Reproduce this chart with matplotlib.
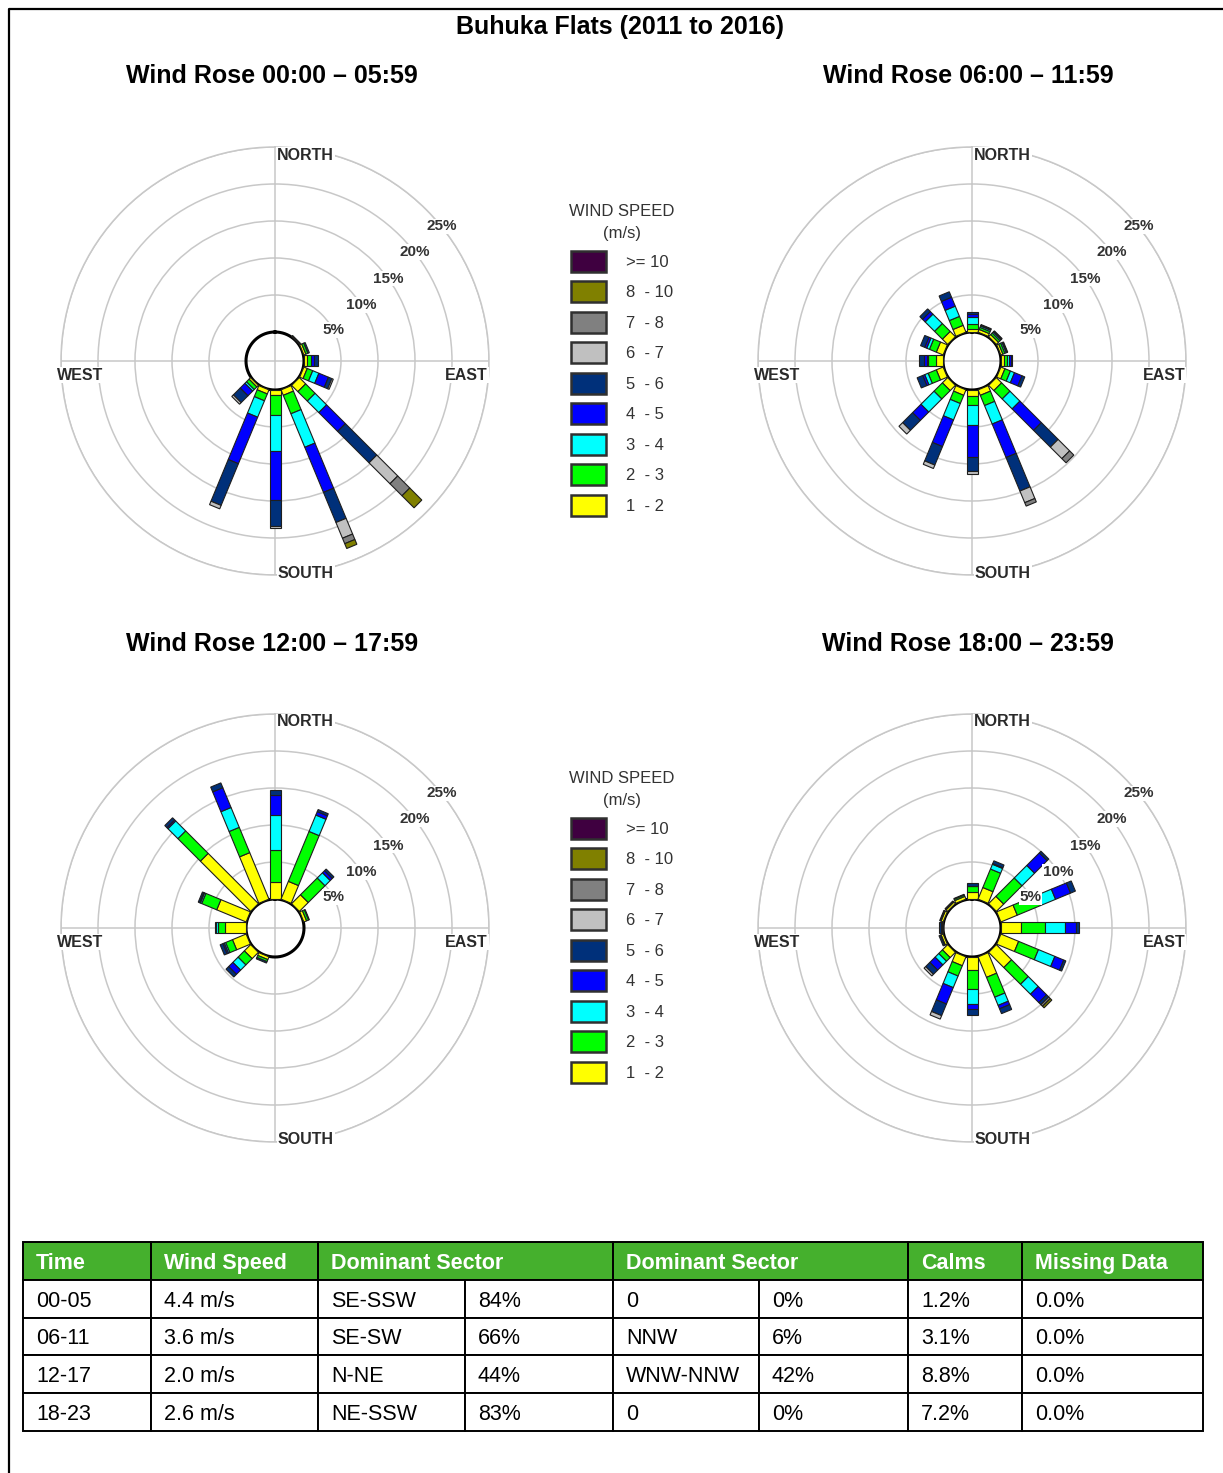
import numpy as np
import matplotlib
matplotlib.use("Agg")
import matplotlib.pyplot as plt
from matplotlib.patches import Patch, Rectangle, Polygon
import matplotlib.lines as mlines

plt.rcParams['font.family'] = ['Liberation Sans', 'DejaVu Sans']

# ---------------- data ----------------
directions = ['N', 'NNE', 'NE', 'ENE', 'E', 'ESE', 'SE', 'SSE',
              'S', 'SSW', 'SW', 'WSW', 'W', 'WNW', 'NW', 'NNW']
speed_bins = ['1  - 2', '2  - 3', '3  - 4', '4  - 5', '5  - 6',
              '6  - 7', '7  - 8', '8  - 10', '>= 10']
bin_colors = ['#FFFF00', '#00FF00', '#00FFFF', '#0000FF', '#00307A',
              '#C0C0C0', '#808080', '#808000', '#3F0040']

# frequency (%) per direction (rows) and speed bin (columns)
rose_00_05 = [
    [0, 0, 0, 0, 0, 0, 0, 0, 0],
    [0, 0, 0, 0, 0, 0, 0, 0, 0],
    [0.1, 0.1, 0, 0, 0, 0, 0, 0, 0],
    [0.3, 0.3, 0, 0, 0.2, 0, 0, 0, 0],
    [0.4, 0.6, 0, 0.3, 0.6, 0, 0, 0, 0],
    [0.5, 0.8, 0.9, 1.4, 0.5, 0.2, 0, 0, 0],
    [1.2, 1.8, 2.2, 3.6, 6.0, 4.0, 2.3, 2.3, 0],
    [0.8, 2.7, 4.9, 6.6, 4.4, 2.3, 0.8, 0.7, 0],
    [0.7, 2.7, 4.8, 6.7, 3.5, 0.3, 0, 0, 0],
    [0.6, 1.0, 2.4, 6.8, 6.1, 0.5, 0, 0, 0],
    [0.3, 0.5, 0.3, 0.9, 1.3, 0.3, 0, 0, 0],
    [0, 0, 0, 0, 0, 0, 0, 0, 0],
    [0, 0, 0, 0, 0, 0, 0, 0, 0],
    [0, 0, 0, 0, 0, 0, 0, 0, 0],
    [0, 0, 0, 0, 0, 0, 0, 0, 0],
    [0, 0, 0, 0, 0, 0, 0, 0, 0],
]
rose_06_11 = [
    [0.4, 0.7, 0.9, 0.4, 0.3, 0, 0, 0, 0],
    [0.4, 0.3, 0.2, 0.1, 0.1, 0, 0, 0, 0],
    [0.4, 0.3, 0.2, 0.1, 0.1, 0, 0, 0, 0],
    [0.3, 0.3, 0.2, 0.1, 0.1, 0, 0, 0, 0],
    [0.4, 0.4, 0.3, 0.2, 0.2, 0, 0, 0, 0],
    [0.6, 0.8, 0.6, 1.1, 0.4, 0, 0, 0, 0],
    [1.0, 1.6, 1.9, 4.1, 3.2, 2.2, 0.8, 0, 0],
    [0.8, 1.5, 2.7, 4.9, 4.9, 1.7, 0.5, 0, 0],
    [0.8, 1.2, 2.7, 4.3, 2.0, 0.4, 0, 0, 0],
    [0.8, 1.2, 2.4, 3.9, 2.7, 0.5, 0, 0, 0],
    [1.0, 1.6, 2.5, 1.6, 1.9, 0.7, 0, 0, 0],
    [1.0, 1.2, 0.5, 0.3, 0.8, 0, 0, 0, 0],
    [1.0, 1.0, 0.2, 0.4, 0.6, 0, 0, 0, 0],
    [1.0, 1.0, 0.4, 0.3, 0.6, 0, 0, 0, 0],
    [1.0, 1.5, 1.8, 0.5, 0.5, 0, 0, 0, 0],
    [1.0, 1.3, 1.5, 1.3, 0.8, 0, 0, 0, 0],
]
rose_12_17 = [
    [2.3, 4.3, 4.7, 2.7, 0.7, 0, 0, 0, 0],
    [2.6, 7.3, 2.4, 0.5, 0.3, 0, 0, 0, 0],
    [1.7, 3.2, 1.0, 0.4, 0.3, 0, 0, 0, 0],
    [0.4, 0.3, 0, 0, 0.1, 0, 0, 0, 0],
    [0, 0, 0, 0, 0, 0, 0, 0, 0],
    [0, 0, 0, 0, 0, 0, 0, 0, 0],
    [0, 0, 0, 0, 0, 0, 0, 0, 0],
    [0, 0, 0, 0, 0, 0, 0, 0, 0],
    [0, 0, 0, 0, 0, 0, 0, 0, 0],
    [0.4, 0.3, 0, 0, 0.2, 0, 0, 0, 0],
    [1.2, 1.2, 1.0, 0.8, 0.5, 0, 0, 0, 0],
    [2.0, 1.0, 0.2, 0.2, 0.4, 0, 0, 0, 0],
    [2.9, 0.9, 0.2, 0, 0.2, 0, 0, 0, 0],
    [4.3, 2.2, 0.2, 0.1, 0.2, 0, 0, 0, 0],
    [9.6, 4.3, 1.9, 0.2, 0.4, 0, 0, 0, 0],
    [6.8, 3.7, 2.9, 2.9, 0.7, 0, 0, 0, 0],
]
rose_18_23 = [
    [1.0, 0.7, 0, 0.1, 0.3, 0, 0, 0, 0],
    [1.7, 2.7, 0.7, 0.1, 0.4, 0, 0, 0, 0],
    [1.4, 3.5, 2.4, 2.4, 0.3, 0, 0, 0, 0],
    [2.4, 3.4, 2.2, 2.2, 0.7, 0, 0, 0, 0],
    [2.7, 3.2, 2.7, 1.6, 0.4, 0, 0, 0, 0],
    [2.6, 2.9, 2.4, 1.3, 0.3, 0, 0, 0, 0],
    [2.9, 3.2, 1.9, 1.6, 0.4, 0, 0.3, 0.3, 0],
    [3.0, 2.9, 1.2, 0.5, 0.7, 0, 0, 0, 0],
    [1.8, 2.5, 2.0, 0.7, 0.8, 0, 0, 0, 0],
    [1.3, 1.5, 1.7, 2.4, 1.7, 0.5, 0, 0, 0],
    [1.0, 0.7, 0.7, 1.0, 0.8, 0.3, 0, 0, 0],
    [0.3, 0.1, 0, 0, 0.2, 0, 0, 0, 0],
    [0.2, 0.1, 0, 0, 0.3, 0, 0, 0, 0],
    [0.3, 0.1, 0, 0, 0.1, 0, 0, 0, 0],
    [0.3, 0.1, 0, 0, 0.1, 0, 0, 0, 0],
    [0.4, 0.2, 0, 0, 0.1, 0, 0, 0, 0],
]
rose_titles = ['Wind Rose 00:00 \u2013 05:59', 'Wind Rose 06:00 \u2013 11:59',
               'Wind Rose 12:00 \u2013 17:59', 'Wind Rose 18:00 \u2013 23:59']
ring_pcts = [5, 10, 15, 20, 25]
main_title = 'Buhuka Flats (2011 to 2016)'

table_header = ['Time', 'Wind Speed', 'Dominant Sector', '', 'Dominant Sector', '',
                'Calms', 'Missing Data']
table_time = ['00-05', '06-11', '12-17', '18-23']
table_speed = ['4.4 m/s', '3.6 m/s', '2.0 m/s', '2.6 m/s']
table_sector1 = ['SE-SSW', 'SE-SW', 'N-NE', 'NE-SSW']
table_pct1 = ['84%', '66%', '44%', '83%']
table_sector2 = ['0', 'NNW', 'WNW-NNW', '0']
table_pct2 = ['0%', '6%', '42%', '0%']
table_calms = ['1.2%', '3.1%', '8.8%', '7.2%']
table_missing = ['0.0%', '0.0%', '0.0%', '0.0%']

# ---------------- layout ----------------
W, H = 1223, 1473
fig = plt.figure(figsize=(W / 100, H / 100), dpi=100)


def fx(x):
    return x / W


def fy(y):
    return 1 - y / H


R_PX = 214            # outer ring radius (px) = 25 %
PX_PER_PCT = 7.4
R0 = 29 / PX_PER_PCT  # calm circle radius in % units
HALF_W = 5.5 / PX_PER_PCT  # half bar width in % units
GRID = '#c8c8c8'
label_angles = [62, 57, 54, 52, 51]  # compass angle of ring labels

centers = [(275, 361), (972, 361), (275, 928), (972, 928)]
title_pos = [(272, 76), (968, 76), (272, 644), (968, 644)]
roses = [rose_00_05, rose_06_11, rose_12_17, rose_18_23]


def straight_bar(ax, theta, r1, r2, color):
    """Rectangle of constant width along direction theta from radius r1 to r2."""
    a1 = np.arctan2(HALF_W, r1)
    a2 = np.arctan2(HALF_W, r2)
    q1 = np.hypot(HALF_W, r1)
    q2 = np.hypot(HALF_W, r2)
    verts = [(theta - a1, q1), (theta - a2, q2), (theta + a2, q2), (theta + a1, q1)]
    ax.add_patch(Polygon(verts, closed=True, facecolor=color, edgecolor='#1e1e1e',
                         linewidth=0.8, zorder=3))


for rose, (cx, cy), title, (tx, ty) in zip(roses, centers, rose_titles, title_pos):
    ax = fig.add_axes([fx(cx - R_PX), fy(cy + R_PX), 2 * R_PX / W, 2 * R_PX / H],
                      projection='polar')
    ax.set_theta_zero_location('N')
    ax.set_theta_direction(-1)
    ax.set_autoscale_on(False)
    ax.set_ylim(0, R0 + 25)

    t = np.linspace(0, 2 * np.pi, 361)
    ax.plot(t, np.full_like(t, R0), color='black', linewidth=2.2, zorder=2.5)

    data = np.array(rose, dtype=float)
    for i, d in enumerate(directions):
        theta = np.radians(i * 22.5)
        bottom = R0
        for j in range(len(speed_bins)):
            v = data[i, j]
            if v <= 0:
                continue
            straight_bar(ax, theta, bottom, bottom + v, bin_colors[j])
            bottom += v

    ax.set_ylim(0, R0 + 25)
    ax.set_yticks([R0 + p for p in ring_pcts])
    ax.set_yticklabels([])
    ax.set_xticks(np.radians([0, 90, 180, 270]))
    ax.set_xticklabels([])
    ax.grid(True, color=GRID, linewidth=1.1)
    ax.spines['polar'].set_color(GRID)
    ax.spines['polar'].set_linewidth(1.1)

    for p, a in zip(ring_pcts, label_angles):
        ax.text(np.radians(a), R0 + p, f'{p}%', ha='center', va='center',
                fontsize=11, fontweight='bold', color='#333333', zorder=6,
                bbox=dict(facecolor='white', edgecolor='none', pad=0.6))

    lab_kw = dict(fontsize=11.5, fontweight='bold', color='#2a2a2a',
                  bbox=dict(facecolor='white', edgecolor='none', pad=0.6))
    fig.text(fx(cx + 2), fy(cy - 206), 'NORTH', ha='left', va='center', **lab_kw)
    fig.text(fx(cx + 3), fy(cy + 212), 'SOUTH', ha='left', va='center', **lab_kw)
    fig.text(fx(cx - 218), fy(cy + 14), 'WEST', ha='left', va='center', **lab_kw)
    fig.text(fx(cx + 213), fy(cy + 14), 'EAST', ha='right', va='center', **lab_kw)

    fig.text(fx(tx), fy(ty), title, ha='center', va='center',
             fontsize=18, fontweight='bold', color='black')

fig.text(fx(620), fy(27), main_title, ha='center', va='center',
         fontsize=18, fontweight='bold', color='black')

# legends
handles = [Patch(facecolor=c, edgecolor='#303030', linewidth=1.8) for c in bin_colors[::-1]]
labels = speed_bins[::-1]
for ly in (204, 771):
    leg = fig.legend(handles, labels, loc='upper center',
                     bbox_to_anchor=(fx(622), fy(ly)), frameon=False,
                     fontsize=12, title='WIND SPEED\n(m/s)', title_fontsize=12,
                     handlelength=2.1, handleheight=1.56, handletextpad=1.15,
                     labelspacing=0.57, borderpad=0, borderaxespad=0)
    for txt in leg.get_texts():
        txt.set_color('#333333')
    ttl = leg.get_title()
    ttl.set_color('#333333')
    ttl.set_multialignment('center')
    ttl.set_linespacing(1.6)

# table
col_px = [128, 167, 147, 148, 146, 149, 114, 181]
tot = sum(col_px)
tax = fig.add_axes([fx(23), fy(1431), tot / W, 189 / H])
tax.set_xlim(0, 1)
tax.set_ylim(0, 1)
tax.axis('off')
tax.add_patch(Rectangle((0, 0.8), 1, 0.2, facecolor='#45B02D', edgecolor='none', zorder=1))
rows = list(zip(table_time, table_speed, table_sector1, table_pct1,
                table_sector2, table_pct2, table_calms, table_missing))
tbl = tax.table(cellText=rows, colLabels=table_header, colLoc='left',
                colWidths=[c / tot for c in col_px], bbox=[0, 0, 1, 1], cellLoc='left')
tbl.set_zorder(2)
tbl.auto_set_font_size(False)
tbl.set_fontsize(15.5)
for (r, c), cell in tbl.get_celld().items():
    cell.set_edgecolor('black')
    cell.set_linewidth(1.4)
    cell.PAD = 13 / col_px[c]
    cell.get_text().set_verticalalignment('center_baseline')
    if r == 0:
        cell.set_fill(False)
        cell.get_text().set_color('white')
        cell.get_text().set_fontweight('bold')
        if c in (2, 4):
            cell.visible_edges = 'BTL'
        elif c in (3, 5):
            cell.visible_edges = 'BTR'
    else:
        cell.set_facecolor('white')
        cell.get_text().set_color('black')

# outer frame
fig.add_artist(mlines.Line2D([fx(8.5), fx(8.5), fx(1223)], [0, fy(8.5), fy(8.5)],
                             color='black', linewidth=1.6))

fig.savefig('out.png', dpi=100, facecolor='white')
